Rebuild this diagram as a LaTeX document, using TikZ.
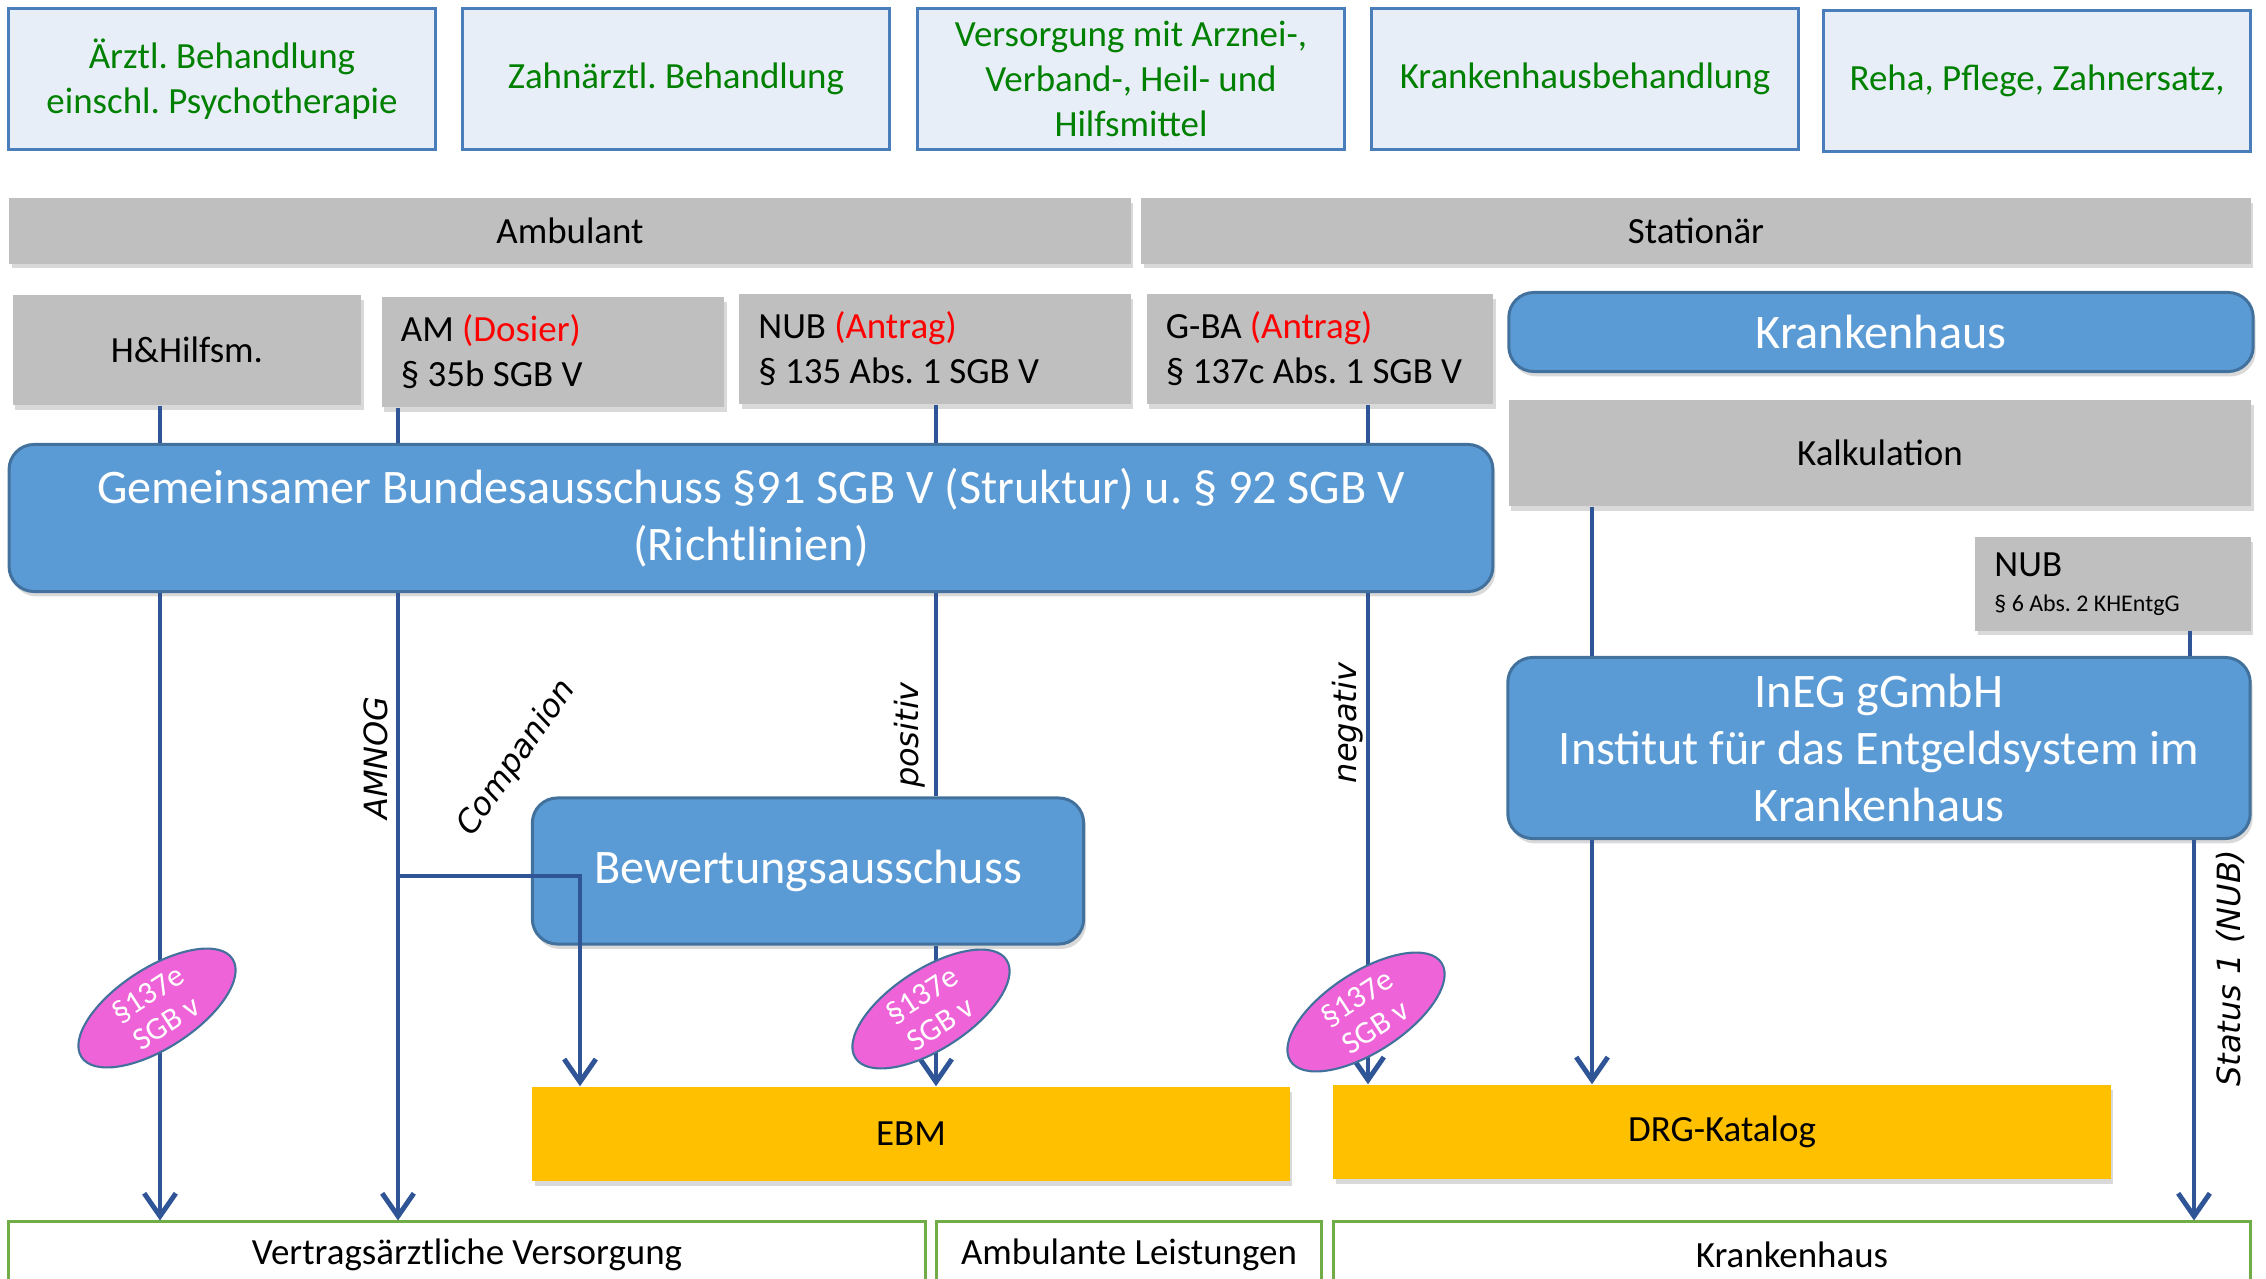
\documentclass[tikz,border=0pt]{standalone}
\usepackage{fontspec}
\setmainfont{Carlito}
\newfontfamily\tagfont{DejaVu Sans}
\usetikzlibrary{arrows.meta, shapes.geometric, shadows}
\frenchspacing

\definecolor{servicefill}{RGB}{232,238,248}
\definecolor{serviceframe}{RGB}{74,126,187}
\definecolor{servicegreen}{RGB}{0,128,0}
\definecolor{sectorgray}{RGB}{191,191,191}
\definecolor{bodyblue}{RGB}{91,155,213}
\definecolor{bodyframe}{RGB}{65,113,156}
\definecolor{flowblue}{RGB}{47,85,151}
\definecolor{catalogorange}{RGB}{255,192,0}
\definecolor{paragraphpink}{RGB}{238,100,216}
\definecolor{areagreen}{RGB}{112,173,71}

\newcommand{\antrag}[1]{\textcolor{red}{#1}}
\newcommand{\normaltext}{\fontsize{10.5}{12.8}\selectfont}
\newcommand{\bigtext}{\fontsize{13.7}{16.3}\selectfont}

\tikzset{
  service/.style={
    draw=serviceframe,
    fill=servicefill,
    line width=0.85pt,
    text=servicegreen,
    minimum width=4.27cm,
    minimum height=1.4cm,
    inner ysep=0pt,
    align=center,
    font=\normaltext
  },
%
  shade/.style={
    drop shadow={shadow xshift=0.7pt, shadow yshift=-1.4pt, opacity=0.3}
  },
%
  sector/.style={
    fill=sectorgray,
    shade,
    minimum height=0.65cm,
    font=\normaltext
  },
%
  source/.style={
    fill=sectorgray,
    shade,
    minimum height=1.1cm,
    font=\normaltext
  },
%
  sourcelist/.style={
    source,
    align=flush left,
    inner xsep=0.19cm,
    text width=#1
  },
  sourcelist/.default={3cm},
%
  body/.style={
    draw=bodyframe,
    fill=bodyblue,
    line width=0.85pt,
    rounded corners=0.25cm,
    shade,
    text=white,
    align=center,
    font=\bigtext
  },
%
  catalog/.style={
    fill=catalogorange,
    shade,
    minimum height=0.94cm,
    font=\normaltext
  },
%
  area/.style={
    draw=areagreen,
    fill=white,
    line width=0.85pt,
    minimum height=0.66cm,
    font=\normaltext
  },
%
  paragraph/.style={
    ellipse,
    draw=bodyframe,
    fill=paragraphpink,
    line width=0.6pt,
    inner sep=-4pt,
    minimum width=1.8cm,
    minimum height=0.8cm,
    rotate=33,
    text=white,
    align=center,
    font=\fontsize{9}{9.8}\selectfont
  },
%
  tag/.style={
    font=\tagfont\itshape\fontsize{9.1}{11}\selectfont
  },
%
  link/.style={
    draw=flowblue,
    line width=1.4pt
  },
%
  flow/.style={
    link,
    -{Straight Barb[length=6.5pt, width=9pt]}
  },
}

\begin{document}
\begin{tikzpicture}[x=0.01cm, y=-0.01cm]
\useasboundingbox (0,0) rectangle (2266,1279);

% Leistungen
\node[service] at (222,79) (aerztl) {Ärztl. Behandlung\\einschl. Psychotherapie};
\node[service] at (676,79) (zahn) {Zahnärztl. Behandlung};
\node[service] at (1131,79) (versorgung) {Versorgung mit Arznei-,\\Verband-, Heil- und\\Hilfsmittel};
\node[service] at (1585,79) (khbehandlung) {Krankenhausbehandlung};
\node[service] at (2037,81) (reha) {Reha, Pflege, Zahnersatz,};

% Sektoren
\node[sector, minimum width=11.21cm] at (570,231) (ambulant) {Ambulant};
\node[sector, minimum width=11.09cm] at (1696,231) (stationaer) {Stationär};

\node[source, minimum width=3.48cm] at (187,350) (hilfsm) {H\&Hilfsm.};
\node[sourcelist=3.04cm] at (553,352) (am) {AM \antrag{(Dosier)}\\§ 35b SGB V};
\node[sourcelist=3.53cm] at (935,349) (nubamb) {NUB \antrag{(Antrag)}\\§ 135 Abs. 1 SGB V};
\node[sourcelist=3.08cm] at (1320,349) (gbaantrag) {G-BA \antrag{(Antrag)}\\§ 137c Abs. 1 SGB V};
\node[body, minimum width=7.44cm, minimum height=0.79cm] at (1881,332) (krankenhaus) {Krankenhaus};
\node[source, minimum width=7.42cm, minimum height=1.06cm] at (1880,453) (kalkulation) {Kalkulation};

% Gremien
\node[body, minimum width=14.83cm, minimum height=1.47cm] at (751,518) (gba) {Gemeinsamer Bundesausschuss §91 SGB V (Struktur) u. § 92 SGB V\\(Richtlinien)};
\node[sourcelist=2.37cm, minimum height=0.93cm] at (2113,584) (nubkh) {NUB\\[-3pt]{\fontsize{6.8}{8}\selectfont § 6 Abs. 2 KHEntgG}};
\node[body, minimum width=7.42cm, minimum height=1.81cm] at (1879,748) (ineg) {InEG gGmbH\\Institut für das Entgeldsystem im\\Krankenhaus};
\node[body, minimum width=5.51cm, minimum height=1.46cm] at (808,871) (bewertung) {Bewertungsausschuss};

% Kataloge
\node[catalog, minimum width=7.57cm] at (911,1134) (ebm) {EBM};
\node[catalog, minimum width=7.77cm] at (1722,1132) (drg) {DRG-Katalog};

\node[area, minimum width=9.16cm] at (467,1255) (vertrag) {Vertragsärztliche Versorgung};
\node[area, minimum width=3.85cm] at (1129,1255) (ambleist) {Ambulante Leistungen};
\node[area, minimum width=9.16cm] at (1792,1255) (khsektor) {Krankenhaus};

% Verbindungen
\foreach \src/\x in {hilfsm/160, am/398, nubamb/936, gbaantrag/1368}
  \draw[link] (\src.south -| \x,0) -- (gba.north -| \x,0);
\draw[flow] (gba.south -| 160,0) -- (vertrag.north -| 160,0);
\draw[flow] (gba.south -| 398,0) -- (vertrag.north -| 398,0);
\draw[link] (gba.south -| 936,0) -- (bewertung.north -| 936,0);
\draw[flow] (bewertung.south -| 936,0) -- (ebm.north -| 936,0);
\draw[flow] (gba.south -| 1368,0) -- (drg.north -| 1368,0);
\draw[link] (kalkulation.south -| 1592,0) -- (ineg.north -| 1592,0);
\draw[flow] (ineg.south -| 1592,0) -- (drg.north -| 1592,0);
\draw[link] (nubkh.south -| 2190,0) -- (ineg.north -| 2190,0);
\draw[flow] (ineg.south -| 2194,0) -- (khsektor.north -| 2194,0);
\coordinate (companion) at (398,876);
\draw[flow] (companion) -| (ebm.north -| 580,0);

\node[paragraph] at (157,1008) (par1) {§137e\\SGB v};
\node[paragraph] at (931,1009) (par2) {§137e\\SGB v};
\node[paragraph] at (1366,1012) (par3) {§137e\\SGB v};

\node[tag, rotate=90] at (376,758) (amnog) {AMNOG};
\node[tag, rotate=55] at (517,758) (companiontag) {Companion};
\node[tag, rotate=90] at (910,735) (positiv) {positiv};
\node[tag, rotate=90] at (1348,723) (negativ) {negativ};
\node[tag, rotate=90] at (2230,968) (status) {Status 1 (NUB)};

\end{tikzpicture}
\end{document}
